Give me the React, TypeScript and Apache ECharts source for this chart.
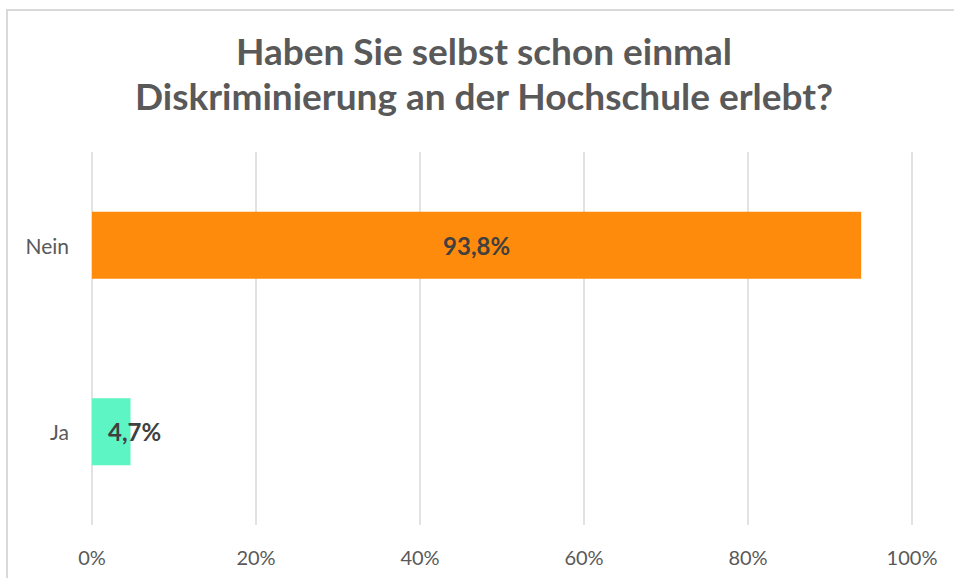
import React, { useEffect, useRef } from "react";
import * as echarts from "echarts";

const titleLines = ["Haben Sie selbst schon einmal", "Diskriminierung an der Hochschule erlebt?"];
const categories = ["Ja", "Nein"];
const values = [4.7, 93.8];
const barColors = ["#5DF5C4", "#FF8B0D"];
const xTicks = [0, 20, 40, 60, 80, 100];

export default function App() {
  const ref = useRef<HTMLDivElement>(null);
  useEffect(() => {
    if (!ref.current) return;
    const chart = echarts.init(ref.current, undefined, { renderer: "svg" });
    chart.setOption({
      animation: false,
      backgroundColor: "#ffffff",
      title: {
        text: titleLines.join("\n"),
        left: 484,
        top: 28,
        padding: 0,
        textAlign: "center",
        textStyle: {
          fontFamily: "Lato",
          fontWeight: "bold",
          fontSize: 37,
          lineHeight: 45,
          color: "#595959",
        },
      },
      graphic: [
        {
          type: "rect",
          shape: { x: 7, y: 10, width: 1000, height: 700 },
          style: { fill: "none", stroke: "#d9d9d9", lineWidth: 2 },
          silent: true,
          z: -1,
        },
      ],
      grid: { left: 92, right: 42, top: 152, bottom: 53, containLabel: false },
      xAxis: {
        type: "value",
        min: xTicks[0],
        max: xTicks[xTicks.length - 1],
        interval: 20,
        axisLine: { show: false },
        axisTick: { show: false },
        splitLine: { show: true, lineStyle: { color: "#d9d9d9", width: 1.5 } },
        axisLabel: {
          formatter: (v: number) => `${v}%`,
          fontFamily: "Lato",
          fontSize: 20,
          color: "#595959",
          margin: 22,
        },
      },
      yAxis: {
        type: "category",
        data: categories,
        axisLine: { show: false },
        axisTick: { show: false },
        axisLabel: {
          fontFamily: "Lato",
          fontSize: 21,
          color: "#595959",
          margin: 23,
        },
      },
      series: [
        {
          type: "bar",
          barWidth: 67,
          data: values.map((v, i) => ({
            value: v,
            itemStyle: { color: barColors[i] },
            label:
              i === 0
                ? { show: true, position: [16, "50%"], align: "left", verticalAlign: "middle" }
                : { show: true, position: "inside" },
          })),
          label: {
            show: true,
            formatter: (p: any) => `${String(p.value).replace(".", ",")}%`,
            fontFamily: "Lato",
            fontWeight: "bold",
            fontSize: 24,
            color: "#404040",
          },
        },
      ],
    });
    return () => chart.dispose();
  }, []);
  return (
    <div
      ref={ref}
      style={{ position: "fixed", left: 0, top: 0, width: 954, height: 578 }}
    />
  );
}
